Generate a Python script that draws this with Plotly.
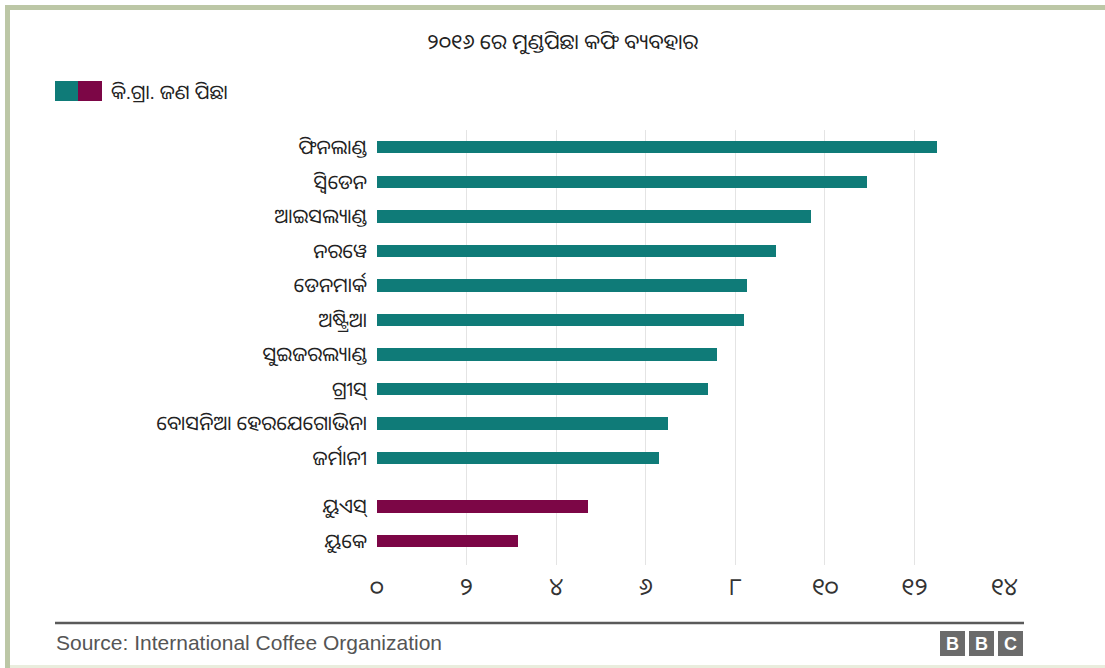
import plotly.graph_objects as go

title = "୨୦୧୬ ରେ ମୁଣ୍ଡପିଛା କଫି ବ୍ୟବହାର"
legend_label = "କି.ଗ୍ରା. ଜଣ ପିଛା"
source = "Source: International Coffee Organization"

nordic_countries = ["ଫିନଲାଣ୍ଡ", "ସ୍ୱିଡେନ", "ଆଇସଲ୍ୟାଣ୍ଡ", "ନରୱେ", "ଡେନମାର୍କ", "ଅଷ୍ଟ୍ରିଆ",
                    "ସୁଇଜରଲ୍ୟାଣ୍ଡ", "ଗ୍ରୀସ୍", "ବୋସନିଆ ହେରଯେଗୋଭିନା", "ଜର୍ମାନୀ"]
nordic_values = [12.5, 10.95, 9.7, 8.9, 8.25, 8.2, 7.6, 7.4, 6.5, 6.3]
other_countries = ["ୟୁଏସ୍", "ୟୁକେ"]
other_values = [4.7, 3.15]

tick_values = [0, 2, 4, 6, 8, 10, 12, 14]
tick_labels = ["୦", "୨", "୪", "୬", "୮", "୧୦", "୧୨", "୧୪"]

TEAL = "#0f7b78"
MAROON = "#7c0646"
ODIA_FONT = "Noto Sans Oriya, Noto Sans Odia, Lohit Odia, Noto Sans, sans-serif"

# layout geometry (pixels)
W, H = 1105, 668
L, R, T, B = 377, 100, 130, 103
PW, PH = W - L - R, H - T - B


def px(x):
    return (x - L) / PW


def py(y):
    return (H - B - y) / PH


GAP = 0.4
y_first = list(range(len(nordic_countries)))
y_second = [len(nordic_countries) + GAP + i for i in range(len(other_countries))]

fig = go.Figure()
fig.add_trace(go.Bar(x=nordic_values, y=y_first, orientation="h", width=0.36,
                     marker=dict(color=TEAL, line=dict(width=0)), showlegend=False,
                     hoverinfo="x"))
fig.add_trace(go.Bar(x=other_values, y=y_second, orientation="h", width=0.36,
                     marker=dict(color=MAROON, line=dict(width=0)), showlegend=False,
                     hoverinfo="x"))

shapes = []
annotations = []

# frame border (top and left heavy, bottom faint)
shapes.append(dict(type="line", xref="paper", yref="paper", x0=px(5), x1=px(1105),
                   y0=py(7.5), y1=py(7.5), line=dict(color="#bcc7a6", width=5)))
shapes.append(dict(type="line", xref="paper", yref="paper", x0=px(7.5), x1=px(7.5),
                   y0=py(5), y1=py(668), line=dict(color="#bcc7a6", width=5)))
shapes.append(dict(type="line", xref="paper", yref="paper", x0=px(10), x1=px(1105),
                   y0=py(666.5), y1=py(666.5), line=dict(color="#e9eddd", width=3)))

# legend swatch
shapes.append(dict(type="rect", xref="paper", yref="paper", x0=px(55), x1=px(78),
                   y0=py(101), y1=py(81), fillcolor=TEAL, line=dict(width=0)))
shapes.append(dict(type="rect", xref="paper", yref="paper", x0=px(78), x1=px(102),
                   y0=py(101), y1=py(81), fillcolor=MAROON, line=dict(width=0)))
annotations.append(dict(text=legend_label, xref="paper", yref="paper", x=px(109), y=py(92),
                        xanchor="left", yanchor="middle", showarrow=False,
                        font=dict(size=20, color="#222", family=ODIA_FONT)))

# title
annotations.append(dict(text=title, xref="paper", yref="paper", x=px(562), y=py(41),
                        xanchor="center", yanchor="middle", showarrow=False,
                        font=dict(size=21, color="#222", family=ODIA_FONT)))

# footer line
shapes.append(dict(type="line", xref="paper", yref="paper", x0=px(55), x1=px(1024),
                   y0=py(623), y1=py(623), line=dict(color="#5a5a5a", width=2.5)))
annotations.append(dict(text=source, xref="paper", yref="paper", x=px(54), y=py(642),
                        xanchor="left", yanchor="middle", showarrow=False,
                        font=dict(size=21, color="#555", family="Liberation Sans, Arial, sans-serif")))

# BBC logo
for i, letter in enumerate(["B", "B", "C"]):
    x0 = 940 + i * 29
    shapes.append(dict(type="rect", xref="paper", yref="paper", x0=px(x0), x1=px(x0 + 25),
                       y0=py(656), y1=py(631), fillcolor="#6b6b6b", line=dict(width=0)))
    annotations.append(dict(text="<b>" + letter + "</b>", xref="paper", yref="paper",
                            x=px(x0 + 12.5), y=py(643.5), xanchor="center", yanchor="middle",
                            showarrow=False,
                            font=dict(size=18, color="white", family="Liberation Sans, Arial, sans-serif")))

fig.update_layout(
    width=W, height=H,
    margin=dict(l=L, r=R, t=T, b=B, pad=0),
    paper_bgcolor="white", plot_bgcolor="white",
    shapes=shapes, annotations=annotations,
    bargap=0,
    xaxis=dict(range=[0, 14.02], tickvals=tick_values, ticktext=tick_labels,
               showgrid=True, gridcolor="#e4e4e4", gridwidth=1, zeroline=False,
               showline=False, ticks="", ticklabelstandoff=5,
               tickfont=dict(size=24, color="#333", family=ODIA_FONT), fixedrange=True),
    yaxis=dict(range=[12.1, -0.5], tickvals=y_first + y_second,
               ticktext=nordic_countries + other_countries,
               showgrid=False, zeroline=False, showline=False, ticks="",
               ticklabelstandoff=9,
               tickfont=dict(size=20, color="#222", family=ODIA_FONT), fixedrange=True),
)

fig.write_html("out.html", config={"displayModeBar": False},
               post_script="document.body.style.margin='0';document.body.style.overflow='hidden';")
